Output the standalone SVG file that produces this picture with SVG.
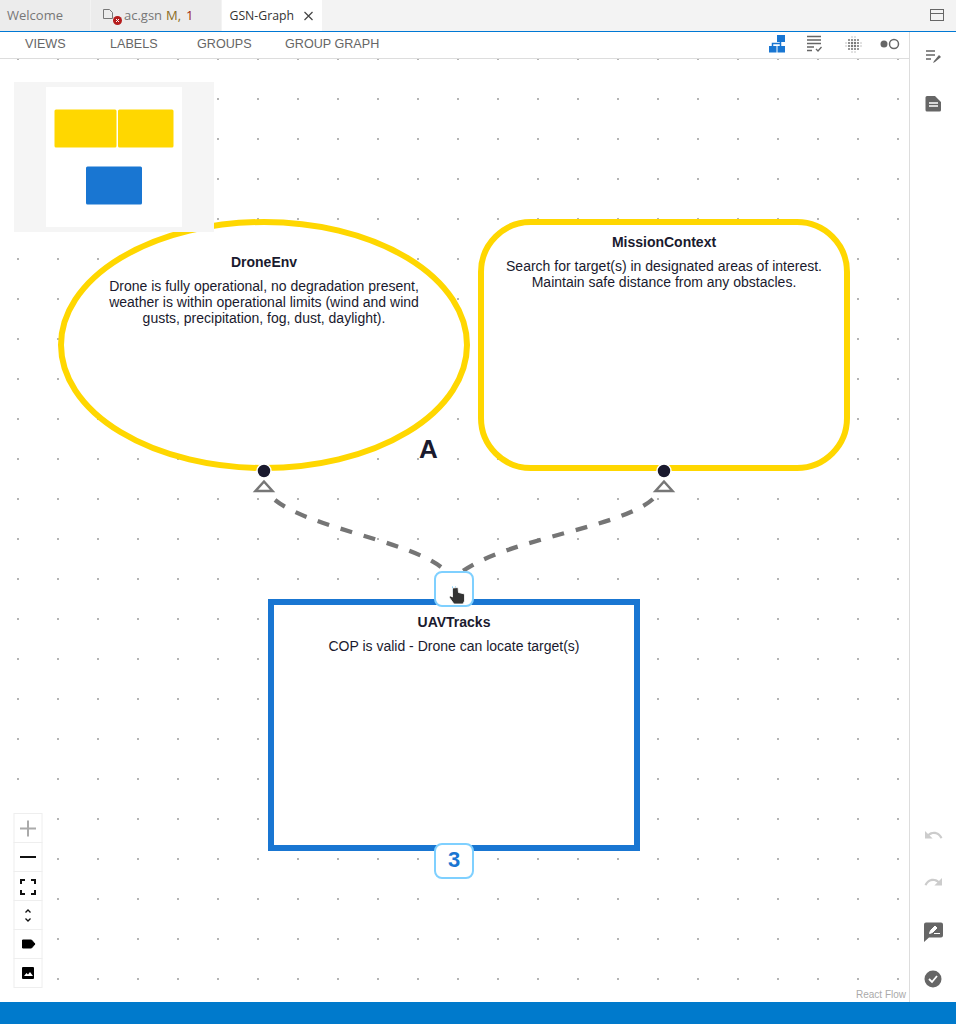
<svg xmlns="http://www.w3.org/2000/svg" width="956" height="1024" viewBox="0 0 956 1024">
<style>
.t{font-family:"Liberation Sans",Arial,sans-serif;font-size:14px;fill:#1a1a2e;text-anchor:middle}
.h{font-weight:700}
.tab{font-family:"Open Sans","Noto Sans",sans-serif;font-size:13px}
.nav{font-family:"Liberation Sans",Arial,sans-serif;font-size:12.6px;fill:#666}
.edge{fill:none;stroke:#757575;stroke-width:4.300;stroke-dasharray:12 12}
.tri{fill:#fff;stroke:#777;stroke-width:2.5}
.dot{fill:#1a1a2e;stroke:#fff;stroke-width:1.5}
.badge{fill:#fff;stroke:#7fd0ff;stroke-width:2}
.ctl{fill:#fff;stroke:#eee;stroke-width:1}
</style>
<defs>
<pattern id="dots" x="17" y="58" width="40" height="40" patternUnits="userSpaceOnUse"><rect x="0" y="0" width="2" height="2" fill="#b4b4b4"/></pattern>
</defs>
<rect width="956" height="1024" fill="#fff"/>
<rect x="0" y="59" width="909" height="943" fill="url(#dots)"/>
<g id="tabs">
<rect width="956" height="31" fill="#f3f3f3"/>
<rect x="0" width="90" height="31" fill="#ececec"/>
<rect x="91" width="130" height="31" fill="#ececec"/>
<rect x="222" width="100" height="31" fill="#fff"/>
<text class="tab" x="7" y="20" fill="#777">Welcome</text>
<path d="M103.500 9.500h6l3 3v6h-9z" fill="none" stroke="#777"/>
<circle cx="117.500" cy="20.500" r="4.500" fill="#b51c1c"/>
<path d="M116 19l3 3M119 19l-3 3" stroke="#fff"/>
<text class="tab" x="124" y="20" fill="#777">ac.gsn</text>
<text class="tab" x="166" y="20" fill="#8a6d1f">M,</text>
<text class="tab" x="186" y="20" fill="#a1260d">1</text>
<text class="tab" x="229.500" y="20" fill="#333" textLength="64.500" lengthAdjust="spacingAndGlyphs">GSN-Graph</text>
<path d="M304.500 12l8 8M312.500 12l-8 8" stroke="#444" stroke-width="1.200"/>
<rect x="930.500" y="9.500" width="13" height="11" fill="none" stroke="#666"/>
<path d="M930.500 13.500h13" stroke="#666"/>
<rect x="0" y="31" width="956" height="1" fill="#0078d4"/>
</g>
<g id="toolbar">
<rect x="0" y="58" width="909" height="1" fill="#ddd"/>
<rect x="909" y="32" width="1" height="970" fill="#ddd"/>
<text class="nav" x="25" y="48">VIEWS</text>
<text class="nav" x="110" y="48">LABELS</text>
<text class="nav" x="197" y="48">GROUPS</text>
<text class="nav" x="285" y="48">GROUP GRAPH</text>
<g fill="#1976d2"><rect x="777" y="35" width="8" height="7"/><rect x="769" y="46" width="7.500" height="6.500"/><rect x="777.500" y="46" width="7.500" height="6.500"/></g>
<path d="M780.500 42v4M772.500 46v-2.500h8" fill="none" stroke="#1976d2" stroke-width="1.500"/>
<path d="M807 36.500h14M807 40h14M807 43.500h14M807 47h7M807 50.500h5" stroke="#666" stroke-width="1.500"/>
<path d="M816 49l2 2 3.500-4" fill="none" stroke="#666" stroke-width="1.300"/>
<g fill="#777"><circle cx="849" cy="40" r="1"/><circle cx="852" cy="40" r="1.100"/><circle cx="855" cy="40" r="1.100"/><circle cx="858" cy="40" r="1"/><circle cx="849" cy="43" r="1.100"/><circle cx="852" cy="43" r="1.200"/><circle cx="855" cy="43" r="1.200"/><circle cx="858" cy="43" r="1.100"/><circle cx="849" cy="46" r="1.100"/><circle cx="852" cy="46" r="1.200"/><circle cx="855" cy="46" r="1.200"/><circle cx="858" cy="46" r="1.100"/><circle cx="849" cy="49" r="1"/><circle cx="852" cy="49" r="1.100"/><circle cx="855" cy="49" r="1.100"/><circle cx="858" cy="49" r="1"/></g>
<g fill="#bbb"><circle cx="852" cy="37" r=".8"/><circle cx="855" cy="37" r=".8"/><circle cx="852" cy="52" r=".8"/><circle cx="855" cy="52" r=".8"/><circle cx="846" cy="43" r=".8"/><circle cx="846" cy="46" r=".8"/><circle cx="861" cy="43" r=".8"/><circle cx="861" cy="46" r=".8"/></g>
<circle cx="884" cy="44" r="3.500" fill="#666"/>
<circle cx="894" cy="44" r="4.500" fill="none" stroke="#666" stroke-width="1.500"/>
</g>
<g id="sidebar">
<path d="M926 51h9M926 55h9M926 59h5" stroke="#666" stroke-width="1.500"/>
<path d="M933 63l1-2 5-6 2 2-6 5z" fill="#666"/>
<path d="M927 96h8l6 6v8a1.500 1.500 0 0 1-1.500 1.500h-12.500a1.500 1.500 0 0 1-1.500-1.500v-12.500a1.500 1.500 0 0 1 1.500-1.500z" fill="#666"/>
<path d="M929 103h9M929 106h9" stroke="#fff" stroke-width="1.300"/>
<path transform="translate(923.300 825) scale(.85)" d="M12.500 8c-2.650 0-5.050.99-6.900 2.600L2 7v9h9l-3.620-3.620c1.390-1.160 3.160-1.880 5.120-1.880 3.540 0 6.550 2.310 7.600 5.500l2.370-.78C21.080 11.030 17.150 8 12.500 8z" fill="#ccc"/>
<path transform="translate(923.300 872) scale(.85)" d="M18.400 10.600C16.550 8.990 14.150 8 11.500 8c-4.650 0-8.580 3.030-9.960 7.220L3.900 16c1.050-3.190 4.050-5.500 7.600-5.500 1.950 0 3.730.72 5.120 1.880L13 16h9V7l-3.600 3.600z" fill="#ccc"/>
<path d="M926 922.500h15a2 2 0 0 1 2 2v11a2 2 0 0 1-2 2h-12l-5 4.500v-17.500a2 2 0 0 1 2-2z" fill="#666"/>
<path d="M929.500 933.500l1-3 4.500-4.500 2 2-4.500 4.500zM934 933.500h6" fill="#fff" stroke="#fff"/>
<circle cx="933" cy="979" r="8.500" fill="#666"/>
<path d="M929 979l3 3 5-6" fill="none" stroke="#fff" stroke-width="1.800"/>
</g>
<g id="connectors">
<path class="edge" d="M275 500C310 528 405 540 441 567"/>
<path class="edge" d="M653 499C620 528 510 538 463 571"/>
</g>
<g id="DroneEnv">
<ellipse cx="264" cy="345" rx="203" ry="123" fill="#fff" stroke="#ffd700" stroke-width="6"/>
<text class="t h" x="264" y="267">DroneEnv</text>
<text class="t" x="264" y="291">Drone is fully operational, no degradation present,</text>
<text class="t" x="264" y="307">weather is within operational limits (wind and wind</text>
<text class="t" x="264" y="323">gusts, precipitation, fog, dust, daylight).</text>
<text x="419" y="458" style="font-family:'Liberation Sans',Arial,sans-serif;font-size:26px;font-weight:700;fill:#1a1a2e">A</text>
<path class="tri" d="M264 481.500L255.500 491H272.500Z"/>
<circle class="dot" cx="264" cy="471" r="7"/>
</g>
<g id="MissionContext">
<rect x="481" y="222" width="366" height="246" rx="50" fill="#fff" stroke="#ffd700" stroke-width="6"/>
<text class="t h" x="664" y="247">MissionContext</text>
<text class="t" x="664" y="271">Search for target(s) in designated areas of interest.</text>
<text class="t" x="664" y="287">Maintain safe distance from any obstacles.</text>
<path class="tri" d="M664 481.500L655.500 491H672.500Z"/>
<circle class="dot" cx="664" cy="471" r="7"/>
</g>
<g id="UAVTracks">
<rect x="271" y="602" width="366" height="246" fill="#fff" stroke="#1976d2" stroke-width="6"/>
<text class="t h" x="454" y="627">UAVTracks</text>
<text class="t" x="454" y="651">COP is valid - Drone can locate target(s)</text>
<rect class="badge" x="435" y="572" width="38" height="34" rx="7"/>
<rect class="badge" x="435" y="844" width="38" height="34" rx="7"/>
<text x="454" y="867" style="font-family:'Liberation Sans',Arial,sans-serif;font-size:22px;font-weight:700;fill:#1976d2;text-anchor:middle">3</text>
<path d="M452.500 586.500v6M455.500 586.500v6" stroke="#6ec6f5" stroke-width="1"/>
<path d="M452.500 588v9l-2-1-1.500 1 5 7h9l1.500-3v-7l-6-1.500-.500-5z" fill="#333" stroke="#fff" stroke-width=".8"/>
</g>
<g id="minimap">
<rect x="14" y="82" width="200" height="150" fill="#f5f5f5"/>
<rect x="46" y="87" width="136" height="140" fill="#fff"/>
<rect x="54.500" y="109.500" width="62" height="38" rx="1.500" fill="#ffd700"/>
<rect x="118" y="109.500" width="55.500" height="38" rx="1.500" fill="#ffd700"/>
<rect x="86" y="166.500" width="56" height="38" rx="1.500" fill="#1976d2"/>
</g>
<g id="controls">
<rect class="ctl" x="14" y="813.500" width="28" height="29"/>
<rect class="ctl" x="14" y="842.500" width="28" height="29"/>
<rect class="ctl" x="14" y="871.500" width="28" height="29"/>
<rect class="ctl" x="14" y="900.500" width="28" height="29"/>
<rect class="ctl" x="14" y="929.500" width="28" height="29"/>
<rect class="ctl" x="14" y="958.500" width="28" height="29"/>
<path d="M20 828.500h16M28 820.500v16" stroke="#aaa" stroke-width="2"/>
<path d="M20 857h16" stroke="#111" stroke-width="2"/>
<path d="M21 884v-4h4M31 880h4v4M35 890v4h-4M25 894h-4v-4" fill="none" stroke="#111" stroke-width="2"/>
<path d="M25.500 912.500l2.500-2.500 2.500 2.500M25.500 918.500l2.500 2.500 2.500-2.500" fill="none" stroke="#111" stroke-width="1.300"/>
<path d="M22.500 940h9l3.500 4-3.500 4h-9z" fill="#000" stroke="#000" stroke-linejoin="round"/>
<rect x="22" y="967" width="12" height="12" rx="1" fill="#000"/>
<path d="M24 976l2.500-3 1.500 1.500 2-2.500 3 4z" fill="#fff"/>
</g>
<text x="906" y="998" style="font-family:'Liberation Sans',Arial,sans-serif;font-size:10px;fill:#aaa;text-anchor:end">React Flow</text>
<rect id="status" x="0" y="1002" width="956" height="22" fill="#007acc"/>
</svg>
